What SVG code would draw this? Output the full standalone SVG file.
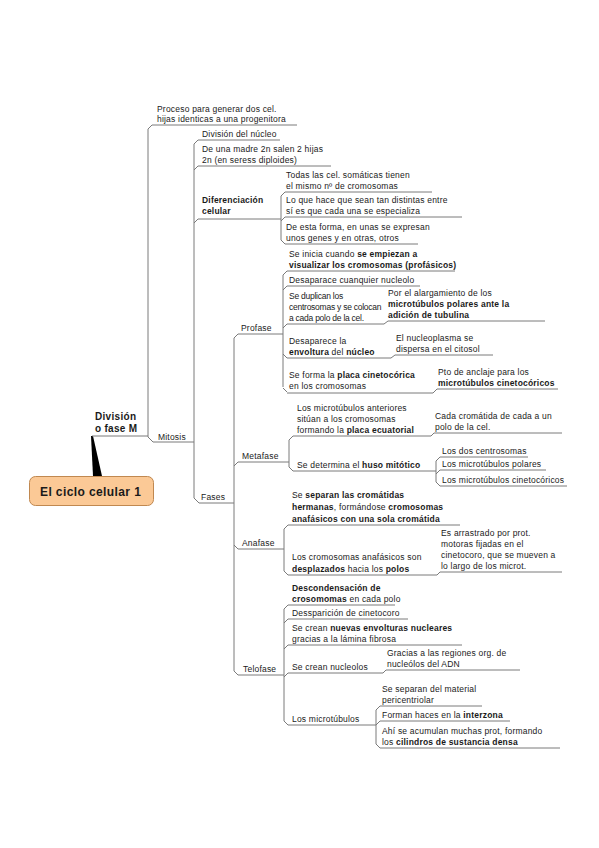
<svg xmlns="http://www.w3.org/2000/svg" width="599" height="848" viewBox="0 0 599 848">
<style>
text{font-family:"Liberation Sans",Arial,sans-serif;font-size:8.5px;letter-spacing:0.2px;fill:#1a1a1a}
.b{font-weight:bold}
text.n{letter-spacing:-0.25px}
.ul,.c{stroke:#7a7a7a;stroke-width:1;fill:none}
.main{font-size:10px;font-weight:bold;letter-spacing:0.3px}
.root{font-size:12px;font-weight:bold;letter-spacing:0.4px}
</style>
<rect width="599" height="848" fill="#ffffff"/>

<g id="connectors">
  <polygon points="91,436 93,436 102,476 93,476" fill="#000"/>
  <path class="c" d="M148,437 V129 L152,125 M148,437 L153,442"/>
  <path class="c" d="M194,498 V144 L198,140 M194,170 L198,166 M194,223 L198,219 M194,498 L199,503"/>
  <path class="c" d="M281,196 V240 M281,196 L285,192 M281,221 L285,217 M281,240 L285,244"/>
  <path class="c" d="M234,338 V671 M234,338 L238,334 M234,466 L238,462 M234,545 L238,549 M234,671 L238,675"/>
  <path class="c" d="M283,275 V387 M283,275 L287,271 M283,290 L287,286 M283,328 L287,324 M283,354 L287,358 M283,388 L287,392"/>
  <path class="c" d="M384,324 L388,321 M391,358 L395,355 M433,393 L437,389"/>
  <path class="c" d="M289,440 V467 M289,440 L293,436 M289,467 L293,471"/>
  <path class="c" d="M431,436 L434,433"/>
  <path class="c" d="M436,461 V482 M436,461 L440,457 M436,474 L440,470 M436,482 L440,486"/>
  <path class="c" d="M284,529 V571 M284,529 L288,525 M284,571 L288,575 M437,575 L440,572"/>
  <path class="c" d="M284,609 V721 M284,609 L288,605 M284,623 L288,619 M284,649 L288,645 M284,677 L288,673 M284,721 L288,725"/>
  <path class="c" d="M383,673 L386,670"/>
  <path class="c" d="M376,710 V744 M376,710 L380,706 M376,725 L380,721 M376,744 L380,748"/>
</g>

<g id="root">
  <rect x="29.5" y="476.5" width="124" height="29" rx="6" fill="#fbc996" stroke="#c08850" stroke-width="1"/>
  <text class="root" x="40" y="496">El ciclo celular 1</text>
</g>

<g id="division-fase-m">
  <text class="main" x="95" y="420">División</text>
  <text class="main" x="95" y="432">o fase M</text>
  <line class="ul" x1="92" y1="436" x2="148" y2="436"/>
</g>

<g id="proceso">
  <text x="157" y="112">Proceso para generar dos cel.</text>
  <text x="157" y="122">hijas identicas a una progenitora</text>
  <line class="ul" x1="152" y1="125" x2="297" y2="125"/>
</g>

<g id="mitosis">
  <text x="158" y="440">Mitosis</text>
  <line class="ul" x1="153" y1="442" x2="194" y2="442"/>
</g>

<g id="division-nucleo">
  <text x="202" y="137">División del núcleo</text>
  <line class="ul" x1="198" y1="140" x2="280" y2="140"/>
</g>

<g id="madre">
  <text x="202" y="152">De una madre 2n salen 2 hijas</text>
  <text x="202" y="163">2n (en seress diploides)</text>
  <line class="ul" x1="198" y1="166" x2="331" y2="166"/>
</g>

<g id="diferenciacion">
  <text class="b" x="202" y="203">Diferenciación</text>
  <text class="b" x="202" y="214">celular</text>
  <line class="ul" x1="198" y1="219" x2="281" y2="219"/>
</g>

<g id="todas">
  <text x="286" y="178">Todas las cel. somáticas tienen</text>
  <text x="286" y="189">el mismo nº de cromosomas</text>
  <line class="ul" x1="285" y1="192" x2="432" y2="192"/>
</g>

<g id="lo-que-hace">
  <text x="286" y="203">Lo que hace que sean tan distintas entre</text>
  <text x="286" y="214">sí es que cada una se especializa</text>
  <line class="ul" x1="285" y1="217" x2="462" y2="217"/>
</g>

<g id="de-esta-forma">
  <text x="286" y="230">De esta forma, en unas se expresan</text>
  <text x="286" y="241">unos genes y en otras, otros</text>
  <line class="ul" x1="285" y1="244" x2="418" y2="244"/>
</g>

<g id="fases">
  <text x="201" y="500">Fases</text>
  <line class="ul" x1="199" y1="503" x2="234" y2="503"/>
</g>

<g id="profase">
  <text x="241" y="331">Profase</text>
  <line class="ul" x1="238" y1="334" x2="283" y2="334"/>
</g>

<g id="se-inicia">
  <text x="289" y="257">Se inicia cuando <tspan class="b">se empiezan a</tspan></text>
  <text class="b" x="289" y="268">visualizar los cromosomas (profásicos)</text>
  <line class="ul" x1="287" y1="271" x2="455" y2="271"/>
</g>

<g id="desaparace">
  <text x="289" y="283">Desaparace cuanquier nucleolo</text>
  <line class="ul" x1="287" y1="286" x2="420" y2="286"/>
</g>

<g id="se-duplican">
  <text class="n" x="289" y="299">Se duplican los</text>
  <text class="n" x="289" y="310">centrosomas y se colocan</text>
  <text class="n" x="289" y="321">a cada polo de la cel.</text>
  <line class="ul" x1="287" y1="324" x2="384" y2="324"/>
</g>

<g id="alargamiento">
  <text x="388" y="296">Por el alargamiento de los</text>
  <text class="b" x="388" y="307">microtúbulos polares ante la</text>
  <text class="b" x="388" y="318">adición de tubulina</text>
  <line class="ul" x1="388" y1="321" x2="545" y2="321"/>
</g>

<g id="envoltura">
  <text x="289" y="344">Desaparece la</text>
  <text x="289" y="355"><tspan class="b">envoltura</tspan> del <tspan class="b">núcleo</tspan></text>
  <line class="ul" x1="287" y1="358" x2="391" y2="358"/>
</g>

<g id="nucleoplasma">
  <text x="396" y="341">El nucleoplasma se</text>
  <text x="396" y="352">dispersa en el citosol</text>
  <line class="ul" x1="395" y1="355" x2="493" y2="355"/>
</g>

<g id="placa-cinetocorica">
  <text x="289" y="378">Se forma la <tspan class="b">placa cinetocórica</tspan></text>
  <text x="289" y="389">en los cromosomas</text>
  <line class="ul" x1="287" y1="393" x2="433" y2="393"/>
</g>

<g id="pto-anclaje">
  <text x="438" y="375">Pto de anclaje para los</text>
  <text class="b" x="438" y="386">microtúbulos cinetocóricos</text>
  <line class="ul" x1="437" y1="389" x2="558" y2="389"/>
</g>

<g id="metafase">
  <text x="242" y="459">Metafase</text>
  <line class="ul" x1="238" y1="462" x2="289" y2="462"/>
</g>

<g id="microtubulos-anteriores">
  <text x="297" y="411">Los microtúbulos anteriores</text>
  <text x="297" y="422">sitúan a los cromosomas</text>
  <text x="297" y="433">formando la <tspan class="b">placa ecuatorial</tspan></text>
  <line class="ul" x1="293" y1="436" x2="431" y2="436"/>
</g>

<g id="cada-cromatida">
  <text x="435" y="419">Cada cromátida de cada a un</text>
  <text x="435" y="430">polo de la cel.</text>
  <line class="ul" x1="434" y1="433" x2="562" y2="433"/>
</g>

<g id="huso">
  <text x="297" y="468">Se determina el <tspan class="b">huso mitótico</tspan></text>
  <line class="ul" x1="293" y1="471" x2="436" y2="471"/>
</g>

<g id="dos-centrosomas">
  <text x="442" y="454">Los dos centrosomas</text>
  <line class="ul" x1="440" y1="457" x2="528" y2="457"/>
</g>

<g id="mt-polares">
  <text x="442" y="467">Los microtúbulos polares</text>
  <line class="ul" x1="440" y1="470" x2="546" y2="470"/>
</g>

<g id="mt-cinetocoricos">
  <text x="442" y="483">Los microtúbulos cinetocóricos</text>
  <line class="ul" x1="440" y1="486" x2="567" y2="486"/>
</g>

<g id="anafase">
  <text x="242" y="546">Anafase</text>
  <line class="ul" x1="238" y1="549" x2="284" y2="549"/>
</g>

<g id="se-separan">
  <text x="292" y="498">Se <tspan class="b">separan las cromátidas</tspan></text>
  <text x="292" y="510"><tspan class="b">hermanas</tspan>, formándose <tspan class="b">cromosomas</tspan></text>
  <text class="b" x="292" y="522">anafásicos con una sola cromátida</text>
  <line class="ul" x1="288" y1="525" x2="460" y2="525"/>
</g>

<g id="cromosomas-anafasicos">
  <text x="292" y="560">Los cromosomas anafásicos son</text>
  <text x="292" y="572"><tspan class="b">desplazados</tspan> hacia los <tspan class="b">polos</tspan></text>
  <line class="ul" x1="288" y1="575" x2="437" y2="575"/>
</g>

<g id="arrastrado">
  <text x="441" y="536">Es arrastrado por prot.</text>
  <text x="441" y="547">motoras fijadas en el</text>
  <text x="441" y="558">cinetocoro, que se mueven a</text>
  <text x="441" y="569">lo largo de los microt.</text>
  <line class="ul" x1="440" y1="572" x2="562" y2="572"/>
</g>

<g id="telofase">
  <text x="243" y="672">Telofase</text>
  <line class="ul" x1="238" y1="675" x2="284" y2="675"/>
</g>

<g id="descondensacion">
  <text class="b" x="292" y="591">Descondensación de</text>
  <text x="292" y="602"><tspan class="b">crosomomas</tspan>  en cada polo</text>
  <line class="ul" x1="288" y1="605" x2="395" y2="605"/>
</g>

<g id="dessparicion">
  <text x="292" y="616">Dessparición de cinetocoro</text>
  <line class="ul" x1="288" y1="619" x2="408" y2="619"/>
</g>

<g id="nuevas-envolturas">
  <text x="292" y="631">Se crean <tspan class="b">nuevas envolturas nucleares</tspan></text>
  <text x="292" y="642">gracias a la lámina fibrosa</text>
  <line class="ul" x1="288" y1="645" x2="462" y2="645"/>
</g>

<g id="nucleolos">
  <text x="292" y="670">Se crean nucleolos</text>
  <line class="ul" x1="288" y1="673" x2="383" y2="673"/>
</g>

<g id="gracias">
  <text x="387" y="656">Gracias a las regiones org. de</text>
  <text x="387" y="667">nucleólos del ADN</text>
  <line class="ul" x1="386" y1="670" x2="520" y2="670"/>
</g>

<g id="los-microtubulos">
  <text x="292" y="722">Los microtúbulos</text>
  <line class="ul" x1="288" y1="725" x2="376" y2="725"/>
</g>

<g id="material">
  <text x="382" y="692">Se separan del material</text>
  <text x="382" y="703">pericentriolar</text>
  <line class="ul" x1="380" y1="706" x2="482" y2="706"/>
</g>

<g id="interzona">
  <text x="382" y="718">Forman haces en la <tspan class="b">interzona</tspan></text>
  <line class="ul" x1="380" y1="721" x2="510" y2="721"/>
</g>

<g id="cilindros">
  <text x="382" y="734">Ahí se acumulan muchas prot, formando</text>
  <text x="382" y="745">los <tspan class="b">cilindros de sustancia densa</tspan></text>
  <line class="ul" x1="380" y1="748" x2="560" y2="748"/>
</g>
</svg>
